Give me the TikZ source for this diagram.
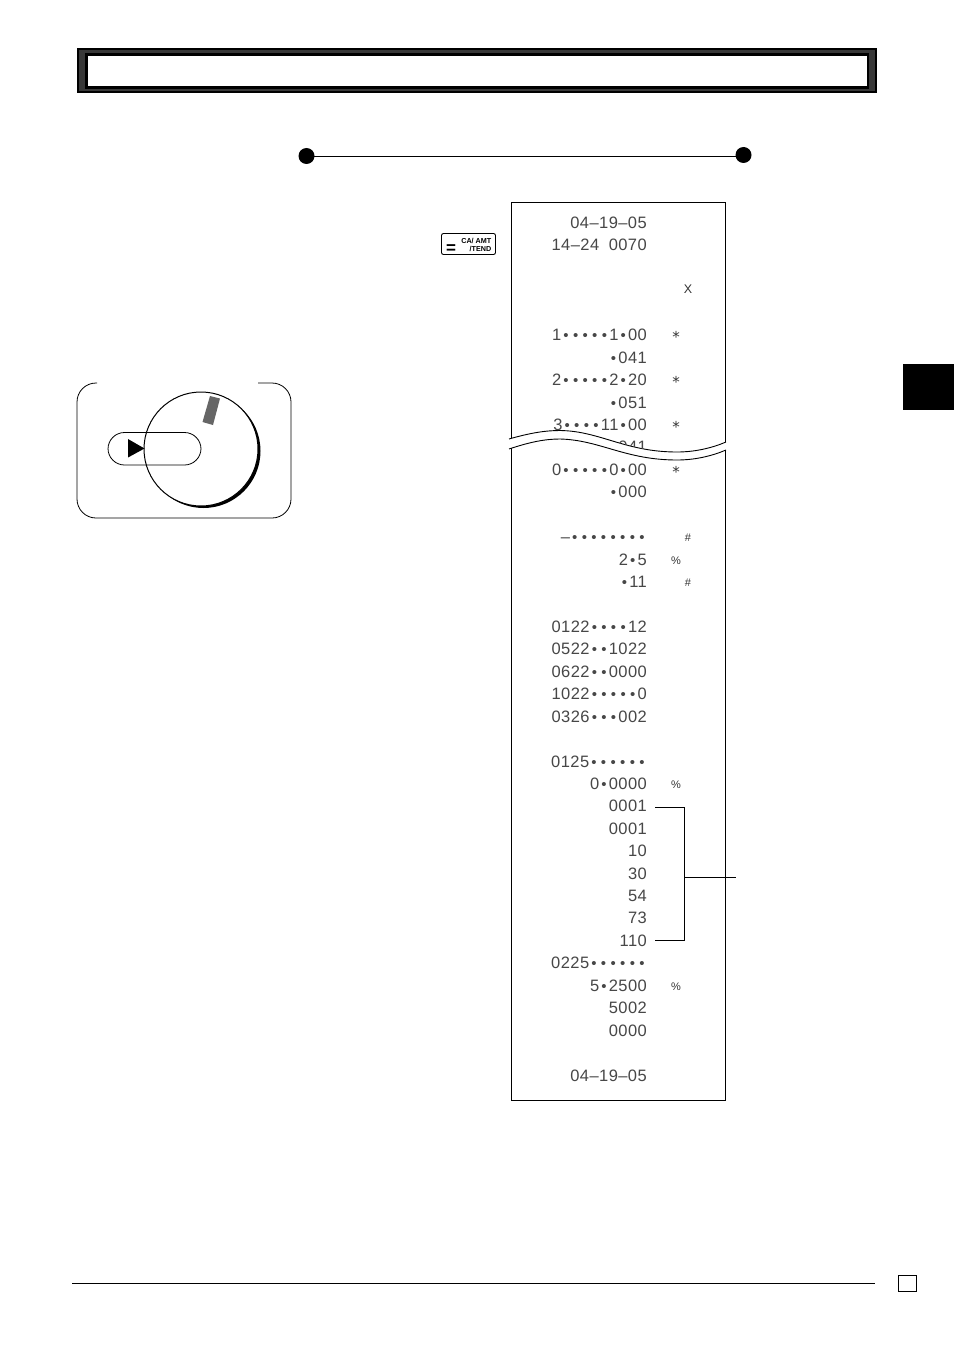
\documentclass[tikz,border=0pt]{standalone}
\usepackage{fontspec}
\setmainfont{Liberation Sans}
\newfontfamily\rcfont[LetterSpace=2.6]{Liberation Sans}
\newfontfamily\astfont{DejaVu Sans}
\newcommand\rcb{\hbox to 9.6pt{\hss\fontsize{15}{15}\selectfont•\hss}}
\newcommand\rcs{\hbox to 9.6pt{\hfil}}
\begin{document}
\begin{tikzpicture}[x=1pt,y=-1pt,
  rc/.style={anchor=base east,inner sep=0pt,text=black!72,font=\rcfont\fontsize{16.5}{16.5}\selectfont},
  rs/.style={anchor=base,inner sep=0pt,text=black!80,font=\fontsize{11}{12}\selectfont},
  rx/.style={anchor=base,inner sep=0pt,text=black!80,font=\fontsize{12.5}{13}\selectfont},
  ra/.style={anchor=base,inner sep=0pt,text=black!80,font=\astfont\fontsize{15}{15}\selectfont},
  thin line/.style={line width=0.8pt,black},
  keytext/.style={inner sep=0pt,anchor=base east,font=\bfseries\fontsize{7.2}{8}\selectfont}]
\useasboundingbox[fill=white] (0,0) rectangle (954,1351);
% header
\fill[black] (77,48) rectangle (877,93);
\fill[black!78] (79,50) rectangle (875,91);
\fill[black] (85,53) rectangle (869,89);
\fill[white] (88,56) rectangle (867,86);
% title rule
\node[circle,fill=black,inner sep=0pt,minimum size=16pt] (tl) at (306.5,156) {};
\node[circle,fill=black,inner sep=0pt,minimum size=16pt] (tr) at (743.5,155) {};
\draw[thin line] (tl.center) -- (tl.center -| tr.center);
% side tab, footer
\fill[black] (903,364) rectangle (954,410);
\draw[thin line] (72,1283) -- (875,1283);
\draw[thin line] (898,1275.5) rectangle (916,1291.5);
% key
\draw[line width=0.9pt,rounded corners=2pt] (441.5,233.5) rectangle (495.5,254.5);
\node[inner sep=0pt,anchor=base,font=\bfseries\fontsize{17}{17}\selectfont] (keq) at (451,253.5) {=};
\node[keytext] (k1) at (491.5,243.5) {CA/ AMT};
\node[keytext] (k2) at (491.5,251.5) {/TEND};
% mode switch
\draw[thin line,rounded corners=19pt] (97,383) -- (77,383) -- (77,518) -- (291,518) -- (291,383) -- (258,383);
\fill[black] (203.5,451) circle[radius=57];
\draw[fill=white,line width=1pt] (201,449) circle[radius=57];
\fill[black!60] (210,396) -- (220,398.5) -- (213,425) -- (202.5,422) -- cycle;
\draw[thin line,rounded corners=16.5pt] (108,432.5) rectangle (201,465);
\fill[black] (128,439) -- (144.5,448.5) -- (128,457.5) -- cycle;
% receipt frame
\draw[line width=0.9pt] (511.5,438) -- (511.5,202.5) -- (725.5,202.5) -- (725.5,442);
\draw[line width=0.9pt] (511.5,448) -- (511.5,1100.5) -- (725.5,1100.5) -- (725.5,450);
\draw[line width=0.9pt] (509,439) .. controls (530,433) and (545,430.5) .. (560,430.5) .. controls (600,431) and (625,452) .. (677,452) .. controls (695,452) and (712,448) .. (726,442);
\draw[line width=0.9pt] (509,449) .. controls (530,442) and (545,439) .. (560,439) .. controls (600,440) and (625,460) .. (677,460) .. controls (695,460) and (712,456) .. (726,450);
% receipt text
\foreach \n/\y/\t in {a/228/04–19–05,b/250/14–24\rcs 0070,c/340.5/1\rcb\rcb\rcb\rcb\rcb 1\rcb 00,d/363/\rcb 041,e/385.5/2\rcb\rcb\rcb\rcb\rcb 2\rcb 20,f/408/\rcb 051,g/430/3\rcb\rcb\rcb\rcb 11\rcb 00,i/475/0\rcb\rcb\rcb\rcb\rcb 0\rcb 00,j/497/\rcb 000,k/542.5/–\rcb\rcb\rcb\rcb\rcb\rcb\rcb\rcb,l/565/2\rcb 5,m/587/\rcb 11,n/632/0122\rcb\rcb\rcb\rcb 12,o/654.5/0522\rcb\rcb 1022,p/677/0622\rcb\rcb 0000,q/699/1022\rcb\rcb\rcb\rcb\rcb 0,r/722/0326\rcb\rcb\rcb 002,s/767/0125\rcb\rcb\rcb\rcb\rcb\rcb,t/789.5/0\rcb 0000,u/811.5/0001,v/834/0001,w/856/10,x/879/30,y/901/54,z/923.5/73,aa/946/110,ab/968.5/0225\rcb\rcb\rcb\rcb\rcb\rcb,ac/991/5\rcb 2500,ad/1013.5/5002,ae/1036/0000,af/1081/04–19–05}
  {\node[rc] (r\n) at (647,\y) {\t};}
\begin{scope}
\clip (509,400) -- (509,439) .. controls (530,433) and (545,430.5) .. (560,430.5) .. controls (600,431) and (625,452) .. (677,452) .. controls (695,452) and (712,448) .. (726,442) -- (726,400) -- cycle;
\node[rc] (rh) at (647,452.5) {\rcb 041};
\end{scope}
\node[rx] (sa) at (688,293.5) {X};
\foreach \n/\x/\y/\t in {f/688/541/\#,g/676/564/\%,h/688/586/\#,i/676/788/\%,j/676/990/\%}
  {\node[rs] (s\n) at (\x,\y) {\t};}
\foreach \n/\y in {b/342.5,c/387.5,d/432.5,e/477}
  {\node[ra] (s\n) at (676,\y) {*};}
% bracket
\coordinate (bt) at (655,807);
\coordinate (bb) at (655,940);
\coordinate (bc) at (684,877);
\coordinate (be) at (736,877);
\draw[thin line] (bt) -- (684,807) -- (684,940) -- (bb);
\draw[thin line] (bc) -- (be);
\end{tikzpicture}
\end{document}
